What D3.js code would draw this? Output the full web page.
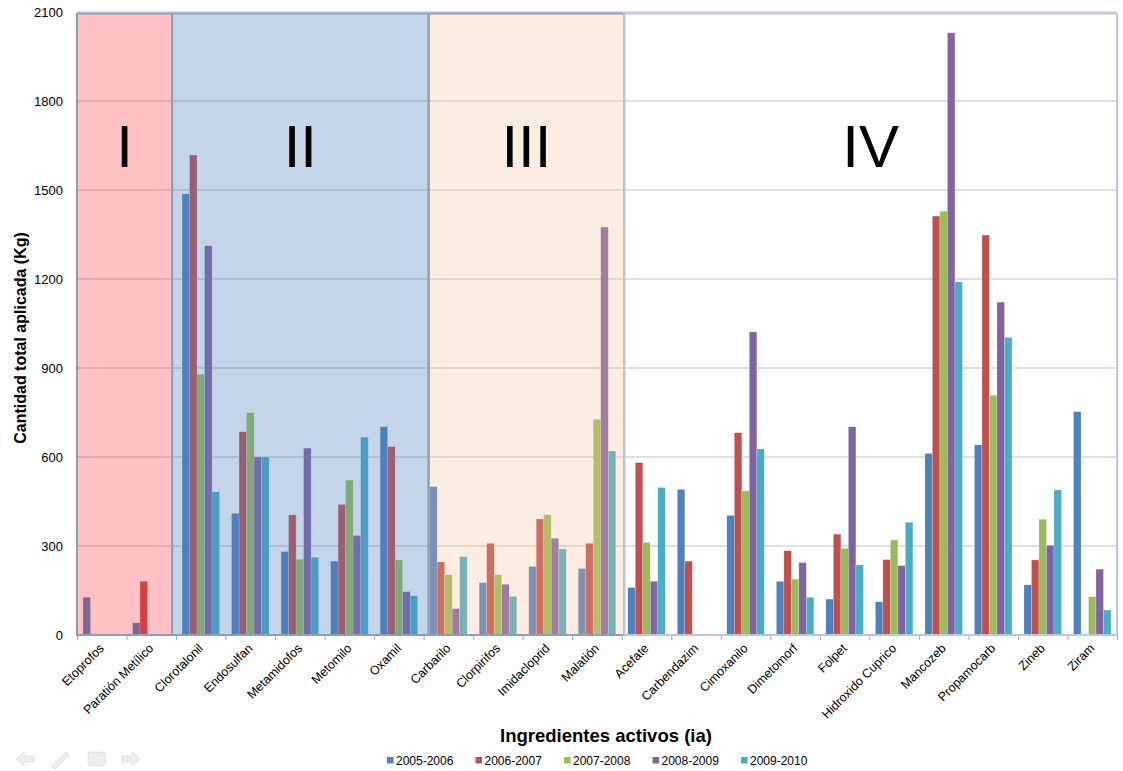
<!DOCTYPE html>
<html>
<head>
<meta charset="utf-8">
<script src="https://cdn.jsdelivr.net/npm/d3@7"></script>
<style>
  body { margin: 0; background: #fff; }
  svg { font-family: "Liberation Sans", Arial, sans-serif; }
</style>
</head>
<body>
<svg id="chart" width="1123" height="771"></svg>
<script>
// ingredientes activos
let categories = ["Etoprofos", "Paratión Metílico", "Clorotalonil", "Endosulfan", "Metamidofos",
  "Metomilo", "Oxamil", "Carbarilo", "Clorpirifos", "Imidacloprid", "Malatión", "Acefate",
  "Carbendazim", "Cimoxanilo", "Dimetomorf", "Folpet", "Hidroxido Cuprico", "Mancozeb",
  "Propamocarb", "Zineb", "Ziram"];

let seriesNames = ["2005-2006", "2006-2007", "2007-2008", "2008-2009", "2009-2010"];

let v2005 = [127, 41, 1487, 410, 281, 249, 702, 500, 176, 231, 224, 160, 491, 403, 181, 121, 112, 612, 641, 169, 753];
let v2006 = [0, 181, 1618, 685, 405, 440, 635, 246, 309, 391, 309, 581, 249, 682, 284, 340, 254, 1412, 1348, 253, 0];
let v2007 = [0, 0, 879, 749, 255, 522, 253, 203, 203, 405, 727, 312, 0, 486, 188, 292, 320, 1428, 808, 390, 129];
let v2008 = [0, 0, 1312, 600, 630, 335, 146, 89, 171, 326, 1375, 181, 0, 1022, 244, 702, 234, 2030, 1122, 302, 222];
let v2009 = [0, 0, 483, 600, 262, 667, 132, 264, 130, 290, 620, 497, 0, 627, 127, 236, 380, 1190, 1003, 489, 84];

let yTicks = [0, 300, 600, 900, 1200, 1500, 1800, 2100];

// toxicity classes, in category units
let regionNames = ["I", "II", "III", "IV"];
let regionStart = [0, 1.92, 7.1, 11.05];
let regionEnd = [1.92, 7.1, 11.05, 21];

let colors = ["#4F81BD", "#C0504D", "#9BBB59", "#8064A2", "#4BACC6"];
let regionFill = ["#FF1A22", "#4F81BD", "#F6BE96", "none"];
let regionAlpha = [0.27, 0.33, 0.28, 0];

const svg = d3.select("#chart");
const pLeft = 77, pRight = 1117, pTop = 12, pBottom = 635;

const allSeries = [v2005, v2006, v2007, v2008, v2009];

const x0 = d3.scaleBand().domain(categories).range([pLeft, pRight]).padding(0);
const x1 = d3.scaleBand().domain(seriesNames).range([0, x0.bandwidth()]).paddingOuter(0.8).paddingInner(0);
const xr = d3.scaleLinear().domain([0, categories.length]).range([pLeft, pRight]);
const y = d3.scaleLinear().domain([0, 2100]).range([pBottom, pTop]);

// gridlines
svg.append("g")
  .selectAll("line")
  .data(yTicks.slice(1))
  .join("line")
  .attr("x1", pLeft).attr("x2", pRight)
  .attr("y1", d => y(d)).attr("y2", d => y(d))
  .attr("stroke", "#BFBFBF")
  .attr("stroke-width", 1.2);

// bars
let rows = [];
categories.forEach((c, i) => {
  seriesNames.forEach((s, j) => {
    rows.push({cat: c, series: s, idx: j, value: allSeries[j][i]});
  });
});

svg.append("g")
  .selectAll("rect")
  .data(rows)
  .join("rect")
  .attr("x", d => x0(d.cat) + x1(d.series))
  .attr("y", d => y(d.value))
  .attr("width", x1.bandwidth())
  .attr("height", d => y(0) - y(d.value))
  .attr("fill", d => colors[d.idx])
  .attr("stroke", "#fff")
  .attr("stroke-opacity", 0.35)
  .attr("stroke-width", 0.6);

// x axis
const xAxis = d3.axisBottom(xr).tickValues(d3.range(0, categories.length + 1)).tickSize(5).tickFormat("");
const gx = svg.append("g").attr("transform", `translate(0,${pBottom})`).call(xAxis);
gx.select(".domain").attr("stroke", "#A6A6A6").attr("stroke-width", 1.2);
gx.selectAll(".tick line").attr("stroke", "#A6A6A6");

// class overlays
const regions = regionNames.map((n, i) => ({name: n, a: regionStart[i], b: regionEnd[i], fill: regionFill[i], alpha: regionAlpha[i]}));

svg.append("g")
  .selectAll("rect")
  .data(regions)
  .join("rect")
  .attr("x", d => xr(d.a))
  .attr("y", pTop + 1.5)
  .attr("width", d => xr(d.b) - xr(d.a))
  .attr("height", pBottom - pTop - 1.5)
  .attr("fill", d => d.fill)
  .attr("fill-opacity", d => d.alpha)
  .attr("stroke", (d, i) => i == 3 ? "#B9C8DC" : "#8C9FBC")
  .attr("stroke-width", 2);

svg.append("g")
  .selectAll("text")
  .data(regions)
  .join("text")
  .attr("x", d => (xr(d.a) + xr(d.b)) / 2)
  .attr("y", 167)
  .attr("text-anchor", "middle")
  .attr("font-size", 60)
  .attr("fill", "#000")
  .text(d => d.name);

// y axis labels
const yAxis = d3.axisLeft(y).tickValues(yTicks).tickSize(0).tickPadding(10).tickFormat(d3.format("d"));
const gy = svg.append("g").attr("transform", `translate(${pLeft - 4},0)`).call(yAxis);
gy.select(".domain").remove();
gy.selectAll("text").attr("font-size", 13).attr("fill", "#000").style("font-family", "Liberation Sans, Arial, sans-serif");

// category labels
svg.append("g")
  .selectAll("text")
  .data(categories)
  .join("text")
  .attr("text-anchor", "end")
  .attr("font-size", 12.5)
  .attr("fill", "#000")
  .attr("transform", d => `translate(${x0(d) + x0.bandwidth() / 2 + 3},${pBottom + 14}) rotate(-45)`)
  .text(d => d);

// axis titles
svg.append("text")
  .attr("transform", `translate(26,338) rotate(-90)`)
  .attr("text-anchor", "middle")
  .attr("font-size", 16)
  .attr("font-weight", "bold")
  .text("Cantidad total aplicada (Kg)");

svg.append("text")
  .attr("x", 606)
  .attr("y", 742)
  .attr("text-anchor", "middle")
  .attr("font-size", 18.5)
  .attr("font-weight", "bold")
  .text("Ingredientes activos (ia)");

// legend
const legend = svg.append("g")
  .selectAll("g")
  .data(seriesNames)
  .join("g")
  .attr("transform", (d, i) => `translate(${387 + i * 88.5},757)`);
legend.append("rect")
  .attr("width", 6.5).attr("height", 6.5).attr("y", 0)
  .attr("fill", (d, i) => colors[i]);
legend.append("text")
  .attr("x", 9).attr("y", 7.5)
  .attr("font-size", 12)
  .text(d => d);

// faint slide navigation icons
const nav = svg.append("g").attr("fill", "#EDEDED").attr("stroke", "#E2E2E2");
nav.append("path").attr("d", "M16,759 L24,752 L24,756 L34,756 L34,762 L24,762 L24,766 Z");
nav.append("path").attr("d", "M52,766 L66,752 L69,755 L55,769 Z");
nav.append("rect").attr("x", 88).attr("y", 752).attr("width", 17).attr("height", 14).attr("rx", 2);
nav.append("path").attr("d", "M140,759 L132,752 L132,756 L122,756 L122,762 L132,762 L132,766 Z");
</script>
</body>
</html>
